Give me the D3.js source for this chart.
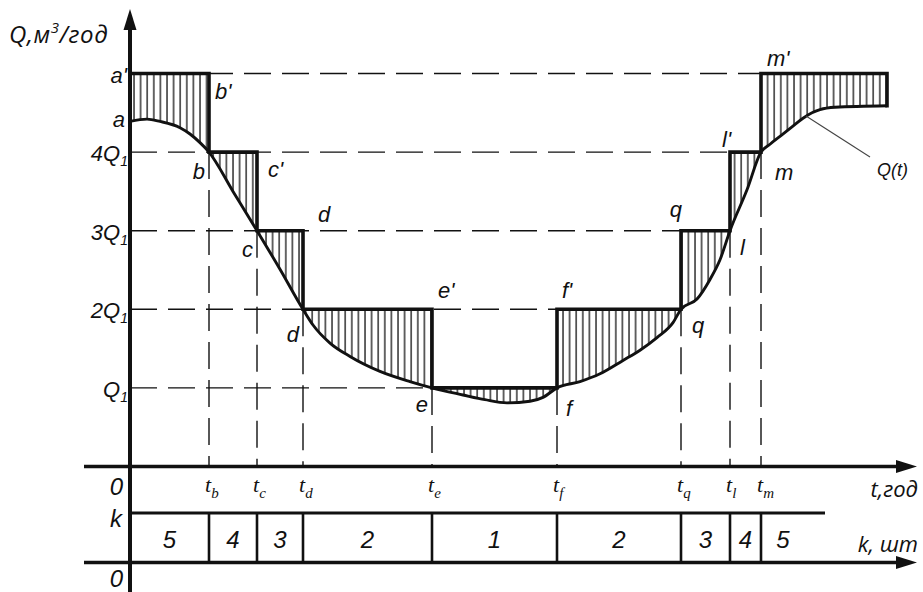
<!DOCTYPE html>
<html>
<head>
<meta charset="utf-8">
<script src="https://cdn.jsdelivr.net/npm/d3@7"></script>
<style>
  html, body { margin: 0; padding: 0; background: #fff; }
  svg { display: block; }
  .lbl { font-family: "Liberation Sans", Arial, sans-serif; font-style: italic; fill: #111; }
  .cyr { font-family: "Open Sans", "Liberation Sans", sans-serif; font-style: italic; fill: #111; }
  .tsym { font-family: "Liberation Serif", "Times New Roman", serif; font-style: italic; fill: #111; }
</style>
</head>
<body>
<svg id="chart" width="923" height="592"></svg>
<script>
// Stage boundaries on the time axis (0, t_b, t_c, t_d, t_e, t_f, t_q, t_l, t_m, end)
const tBounds = [0, 7.9, 12.7, 17.3, 30.2, 42.7, 55.1, 60.0, 63.1, 75.7];
// Subscripts of the boundary labels t_b ... t_m
const tNames = ["b", "c", "d", "e", "f", "q", "l", "m"];
// Number of units k working in each stage
const kCounts = [5, 4, 3, 2, 1, 2, 3, 4, 5];

// Demand curve Q(t), in units of Q1
const curveT = [0, 1.7, 3.0, 5.0, 6.0, 7.0, 7.9, 10.3, 12.7, 15.0, 17.3, 18.3, 20.0, 22.0, 25.0,
                28.0, 30.2, 33.3, 35.5, 37.7, 40.0, 41.3, 42.7, 45.0, 47.0, 49.3, 51.0, 52.7,
                54.3, 55.1, 56.7, 58.0, 59.0, 60.0, 61.7, 63.1, 64.0, 65.0, 66.2, 67.3, 68.2,
                69.0, 70.5, 75.7];
const curveQ = [4.39, 4.42, 4.39, 4.31, 4.23, 4.12, 4.0, 3.5, 3.0, 2.51, 2.0, 1.80, 1.57, 1.40, 1.21,
                1.08, 1.0, 0.91, 0.85, 0.81, 0.83, 0.88, 1.0, 1.08, 1.18, 1.35, 1.48, 1.64,
                1.83, 2.0, 2.13, 2.38, 2.63, 3.0, 3.52, 4.0, 4.1, 4.2, 4.32, 4.43, 4.5,
                4.54, 4.57, 4.59];

// Capacity levels marked on the Q axis
const levelValues = [1, 2, 3, 4];
const levelPrefix = ["", "2", "3", "4"];

// Named points of the diagram: name, time, level
const pointNames = ["b'", "b", "c'", "c", "d", "d", "e'", "e", "f'", "f", "q", "q", "l'", "l", "m'", "m"];
const pointT = [7.9, 7.9, 12.7, 12.7, 17.3, 17.3, 30.2, 30.2, 42.7, 42.7, 55.1, 55.1, 60.0, 60.0, 63.1, 63.1];
const pointQ = [5, 4, 4, 3, 3, 2, 2, 1, 2, 1, 3, 2, 4, 3, 5, 4];

// ---- layout ----
const svg = d3.select("#chart");
const x = d3.scaleLinear().domain([0, 75.7]).range([130, 887]);
const y = d3.scaleLinear().domain([0, 5]).range([466.5, 73.5]);
const kLineY = 513, kAxisY = 562.5;
const ink = "#111";

const pts = curveT.map((t, i) => ({ t, q: curveQ[i] }));
const steps = kCounts.map((k, i) => ({ t: tBounds[i], q: k }))
  .concat([{ t: tBounds[tBounds.length - 1], q: kCounts[kCounts.length - 1] },
           { t: tBounds[tBounds.length - 1], q: curveQ[curveQ.length - 1] }]);

// ---- hatching between the capacity steps and the demand curve ----
const defs = svg.append("defs");
const pat = defs.append("pattern").attr("id", "hatch")
  .attr("patternUnits", "userSpaceOnUse").attr("width", 6.6).attr("height", 20).attr("x", 133);
pat.append("line").attr("x1", 1).attr("x2", 1).attr("y1", 0).attr("y2", 20)
  .attr("stroke", ink).attr("stroke-width", 1.3);

defs.append("clipPath").attr("id", "aboveCurve").append("path")
  .attr("d", d3.area().curve(d3.curveMonotoneX)
    .x(d => x(d.t)).y0(d => y(d.q)).y1(0)(pts));

svg.append("path")
  .attr("clip-path", "url(#aboveCurve)")
  .attr("fill", "url(#hatch)")
  .attr("d", d3.area().curve(d3.curveStepAfter)
    .x(d => x(d.t)).y0(y(0)).y1(d => y(d.q))(steps.slice(0, steps.length - 1)));

// ---- dashed guide lines ----
const dash = "27 11";
const interior = d3.range(1, tBounds.length - 1);
levelValues.concat([5]).forEach(L => {
  let last = 0;
  interior.forEach(i => {
    const lo = Math.min(kCounts[i - 1], kCounts[i]), hi = Math.max(kCounts[i - 1], kCounts[i]);
    if (lo === L || hi === L) last = i;
  });
  svg.append("line")
    .attr("x1", x(0)).attr("x2", x(tBounds[last]))
    .attr("y1", y(L)).attr("y2", y(L))
    .attr("stroke", ink).attr("stroke-width", 1.4).attr("stroke-dasharray", dash);
});
interior.forEach(i => {
  const lo = Math.min(kCounts[i - 1], kCounts[i]);
  svg.append("line")
    .attr("x1", x(tBounds[i])).attr("x2", x(tBounds[i]))
    .attr("y1", y(lo)).attr("y2", y(0))
    .attr("stroke", ink).attr("stroke-width", 1.4).attr("stroke-dasharray", dash);
});

// ---- demand curve Q(t) ----
svg.append("path")
  .attr("fill", "none").attr("stroke", ink).attr("stroke-width", 2.9)
  .attr("d", d3.line().curve(d3.curveMonotoneX).x(d => x(d.t)).y(d => y(d.q))(pts));

// ---- capacity step line ----
svg.append("path")
  .attr("fill", "none").attr("stroke", ink).attr("stroke-width", 3.6)
  .attr("stroke-linejoin", "miter").attr("stroke-linecap", "square")
  .attr("d", d3.line().curve(d3.curveStepAfter).x(d => x(d.t)).y(d => y(d.q))(steps));

// ---- Q(t) leader ----
const leadT = 67.6, leadQ = 4.46;
svg.append("line")
  .attr("x1", x(leadT)).attr("y1", y(leadQ)).attr("x2", 870).attr("y2", 157)
  .attr("stroke", "#444").attr("stroke-width", 1.1);
svg.append("text").attr("class", "lbl").attr("x", 877).attr("y", 176)
  .attr("font-size", 18).text("Q(t)");

// ---- axes ----
function arrow(tipX, tipY, dir) {
  // dir: "right" or "up"
  const L = 21, W = 6.5;
  const p = dir === "right"
    ? [[tipX, tipY], [tipX - L, tipY - W], [tipX - L, tipY + W]]
    : [[tipX, tipY], [tipX - W, tipY + L], [tipX + W, tipY + L]];
  svg.append("path").attr("d", "M" + p.join("L") + "Z").attr("fill", ink);
}
// vertical Q axis
svg.append("line").attr("x1", x(0)).attr("x2", x(0)).attr("y1", 592).attr("y2", 28)
  .attr("stroke", ink).attr("stroke-width", 4);
arrow(x(0), 9, "up");
// t axis
svg.append("line").attr("x1", 84).attr("x2", 900).attr("y1", y(0)).attr("y2", y(0))
  .attr("stroke", ink).attr("stroke-width", 3.4);
arrow(917, y(0), "right");
// k axis
svg.append("line").attr("x1", 84).attr("x2", 900).attr("y1", kAxisY).attr("y2", kAxisY)
  .attr("stroke", ink).attr("stroke-width", 3.4);
arrow(917, kAxisY, "right");
// k band top line and stage separators
svg.append("line").attr("x1", x(0)).attr("x2", 825).attr("y1", kLineY).attr("y2", kLineY)
  .attr("stroke", ink).attr("stroke-width", 2.8);
interior.forEach(i => {
  svg.append("line").attr("x1", x(tBounds[i])).attr("x2", x(tBounds[i]))
    .attr("y1", kLineY).attr("y2", kAxisY)
    .attr("stroke", ink).attr("stroke-width", 2.6);
});

// ---- stage counts ----
kCounts.forEach((k, i) => {
  const cx = i < kCounts.length - 1
    ? (x(tBounds[i]) + x(tBounds[i + 1])) / 2
    : x(tBounds[i]) + 22;
  svg.append("text").attr("class", "lbl").attr("x", cx).attr("y", 548)
    .attr("text-anchor", "middle").attr("font-size", 24).text(k);
});

// ---- t boundary labels ----
interior.forEach((i, j) => {
  const tx = svg.append("text").attr("class", "tsym")
    .attr("x", x(tBounds[i]) - 4).attr("y", 492).attr("font-size", 22);
  tx.append("tspan").text("t");
  tx.append("tspan").attr("font-size", 15).attr("dy", 6).text(tNames[j]);
});

// ---- Q axis labels ----
const title = svg.append("text").attr("class", "cyr").attr("x", 9).attr("y", 43)
  .attr("font-size", 24).attr("letter-spacing", 0.6);
title.append("tspan").text("Q,м");
title.append("tspan").attr("font-size", 15).attr("dy", -10).text("3");
title.append("tspan").attr("dy", 10).text("/год");

svg.append("text").attr("class", "lbl").attr("x", 127).attr("y", y(5) + 9)
  .attr("text-anchor", "end").attr("font-size", 22).text("a'");
svg.append("text").attr("class", "lbl").attr("x", 125).attr("y", y(curveQ[0]) + 6)
  .attr("text-anchor", "end").attr("font-size", 22).text("a");
levelValues.forEach((L, i) => {
  const t = svg.append("text").attr("class", "lbl").attr("x", 128).attr("y", y(L) + 9)
    .attr("text-anchor", "end").attr("font-size", 22);
  t.append("tspan").text(levelPrefix[i] + "Q");
  t.append("tspan").attr("font-size", 14).attr("dy", 5).text("1");
});

// ---- point labels ----
const pointOffset = [[6, 25, "start"], [-4, 27, "end"], [11, 25, "start"], [-4, 26, "end"],
  [15, -9, "start"], [-4, 33, "end"], [6, -11, "start"], [-4, 24, "end"],
  [5, -11, "start"], [9, 28, "start"], [1, -14, "end"], [11, 24, "start"],
  [-8, -5, "start"], [10, 24, "start"], [6, -8, "start"], [14, 28, "start"]];
pointNames.forEach((n, i) => {
  const o = pointOffset[i];
  svg.append("text").attr("class", "lbl")
    .attr("x", x(pointT[i]) + o[0]).attr("y", y(pointQ[i]) + o[1])
    .attr("text-anchor", o[2]).attr("font-size", 22).text(n);
});

// ---- origin and axis names ----
svg.append("text").attr("class", "lbl").attr("x", 123).attr("y", 495)
  .attr("text-anchor", "end").attr("font-size", 24).text("0");
svg.append("text").attr("class", "lbl").attr("x", 122).attr("y", 527)
  .attr("text-anchor", "end").attr("font-size", 24).text("k");
svg.append("text").attr("class", "lbl").attr("x", 123).attr("y", 587)
  .attr("text-anchor", "end").attr("font-size", 24).text("0");
svg.append("text").attr("class", "cyr").attr("x", 918).attr("y", 497)
  .attr("text-anchor", "end").attr("font-size", 22).text("t,год");
svg.append("text").attr("class", "cyr").attr("x", 918).attr("y", 552)
  .attr("text-anchor", "end").attr("font-size", 22).text("k, шт");
</script>
</body>
</html>
